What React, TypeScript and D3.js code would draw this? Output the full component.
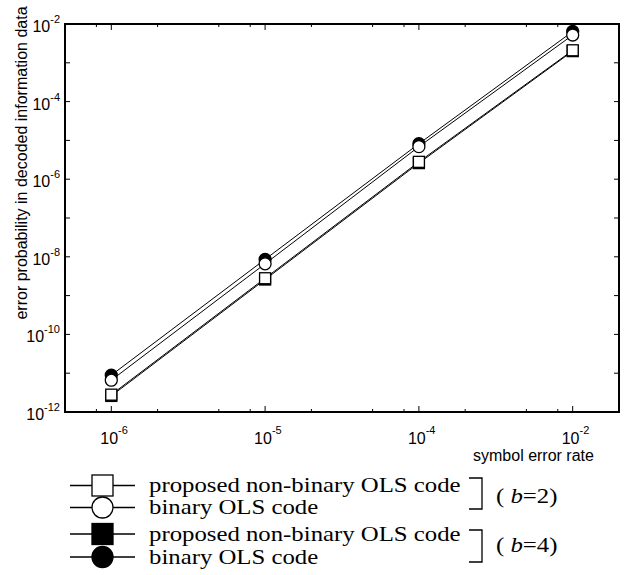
import React from "react";
import * as d3 from "d3";

// ---- data ----
const symbolErrorRates = [1e-6, 1e-5, 1e-4, 1e-3];
const xTickExponents = ["-6", "-5", "-4", "-2"];
const yTickExponents = [-2, -4, -6, -8, -10, -12];

const filledCircleB4 = [8.9e-12, 8.6e-9, 8.2e-6, 6.4e-3];
const openCircleB2 = [6.6e-12, 6.6e-9, 6.9e-6, 5.2e-3];
const openSquareB2 = [2.8e-12, 2.8e-9, 2.8e-6, 2.1e-3];
const filledSquareB4 = [2.6e-12, 2.6e-9, 2.6e-6, 2.0e-3];

const legendLabels = [
  "proposed non-binary OLS code",
  "binary OLS code",
  "proposed non-binary OLS code",
  "binary OLS code",
];
const bValues = ["2", "4"];

const W = 627;
const H = 575;
const left = 65, right = 619, top = 24, bottom = 412;

export default function App() {
  const x = d3.scaleLog().domain([5e-7, 2e-3]).range([left, right]);
  const y = d3.scaleLog().domain([1e-12, 1e-2]).range([bottom, top]);
  const line = d3
    .line<[number, number]>()
    .x((d) => x(d[0]))
    .y((d) => y(d[1]));

  const series = [
    { vals: filledSquareB4, shape: "square", fill: "#000" },
    { vals: filledCircleB4, shape: "circle", fill: "#000" },
    { vals: openSquareB2, shape: "square", fill: "#fff" },
    { vals: openCircleB2, shape: "circle", fill: "#fff" },
  ];

  const minorX: number[] = [];
  [1e-7, 1e-6, 1e-5, 1e-4].forEach((dec) =>
    [2, 5, 8].forEach((m) => {
      const v = dec * m;
      if (v > 5e-7 && v < 2e-3) minorX.push(v);
    })
  );
  const allYDecades = d3.range(-12, -1).map((e) => Math.pow(10, e));

  const sans = "'Liberation Sans', Arial, sans-serif";
  const serif = "'Liberation Serif', 'Times New Roman', serif";

  const legendRows = [
    { cy: 485.5, shape: "square", fill: "#fff" },
    { cy: 507.5, shape: "circle", fill: "#fff" },
    { cy: 534, shape: "square", fill: "#000" },
    { cy: 557, shape: "circle", fill: "#000" },
  ];
  const brackets = [
    { y0: 478, y1: 509, ty: 503 },
    { y0: 530, y1: 562, ty: 552 },
  ];

  return (
    <svg width={W} height={H} style={{ position: "absolute", left: 0, top: 0, background: "#fff" }}>
      <rect x={0} y={0} width={W} height={H} fill="#fff" />
      {/* x ticks (bottom & top) */}
      {symbolErrorRates.map((v, i) => (
        <g key={"xm" + i}>
          <line x1={x(v)} x2={x(v)} y1={bottom} y2={bottom - 6} stroke="#000" strokeWidth={1} />
          <line x1={x(v)} x2={x(v)} y1={top} y2={top + 6} stroke="#000" strokeWidth={1} />
          <text x={x(v) - 11} y={444} fontFamily={sans} fontSize={16}>
            10
            <tspan dy={-10} fontSize={11}>{xTickExponents[i]}</tspan>
          </text>
        </g>
      ))}
      {minorX.map((v, i) => (
        <g key={"xn" + i}>
          <line x1={x(v)} x2={x(v)} y1={bottom} y2={bottom - 3} stroke="#000" strokeWidth={1} />
          <line x1={x(v)} x2={x(v)} y1={top} y2={top + 3} stroke="#000" strokeWidth={1} />
        </g>
      ))}
      {/* y ticks */}
      {allYDecades.map((v, i) => (
        <g key={"y" + i}>
          <line x1={left} x2={left + 5} y1={y(v)} y2={y(v)} stroke="#000" strokeWidth={1} />
          <line x1={right} x2={right - 5} y1={y(v)} y2={y(v)} stroke="#000" strokeWidth={1} />
        </g>
      ))}
      {yTickExponents.map((e) => (
        <text key={"yl" + e} x={60} y={y(Math.pow(10, e)) + 8} fontFamily={sans} fontSize={16} textAnchor="end">
          10
          <tspan dy={-9} fontSize={11}>{String(e)}</tspan>
        </text>
      ))}
      {/* frame */}
      <rect x={left} y={top} width={right - left} height={bottom - top} fill="none" stroke="#000" strokeWidth={2} />
      {/* axis labels */}
      <text
        transform={`translate(27,163) rotate(-90)`}
        textAnchor="middle"
        fontFamily={sans}
        fontSize={16}
      >
        error probability in decoded information data
      </text>
      <text x={473} y={461} fontFamily={sans} fontSize={16}>
        symbol error rate
      </text>
      {/* series lines */}
      {series.map((s, i) => (
        <path
          key={"l" + i}
          d={line(symbolErrorRates.map((xv, j) => [xv, s.vals[j]]) as [number, number][]) || ""}
          fill="none"
          stroke="#000"
          strokeWidth={1}
        />
      ))}
      {/* markers */}
      {series.map((s, i) =>
        symbolErrorRates.map((xv, j) =>
          s.shape === "circle" ? (
            <circle key={"m" + i + j} cx={x(xv)} cy={y(s.vals[j])} r={6} fill={s.fill} stroke="#000" strokeWidth={1.3} />
          ) : (
            <rect
              key={"m" + i + j}
              x={x(xv) - 5.5}
              y={y(s.vals[j]) - 5.5}
              width={11}
              height={11}
              fill={s.fill}
              stroke="#000"
              strokeWidth={1.3}
            />
          )
        )
      )}
      {/* legend */}
      {legendRows.map((r, i) => (
        <g key={"lg" + i}>
          <line x1={70} x2={135} y1={r.cy} y2={r.cy} stroke="#000" strokeWidth={1.3} />
          {r.shape === "square" ? (
            <rect x={92} y={r.cy - 10.5} width={21} height={21} fill={r.fill} stroke="#000" strokeWidth={1.3} />
          ) : (
            <circle cx={102.5} cy={r.cy} r={10.5} fill={r.fill} stroke="#000" strokeWidth={1.3} />
          )}
          <text transform={`translate(149,${r.cy + 6.5}) scale(1.18,1)`} fontFamily={serif} fontSize={21}>
            {legendLabels[i]}
          </text>
        </g>
      ))}
      {brackets.map((b, i) => (
        <g key={"br" + i}>
          <path
            d={`M469,${b.y0}H482V${b.y1}H469`}
            fill="none"
            stroke="#000"
            strokeWidth={1.3}
          />
          <text transform={`translate(496,${b.ty}) scale(1.18,1)`} fontFamily={serif} fontSize={21}>
            ( <tspan fontStyle="italic">b</tspan>={bValues[i]})
          </text>
        </g>
      ))}
    </svg>
  );
}
